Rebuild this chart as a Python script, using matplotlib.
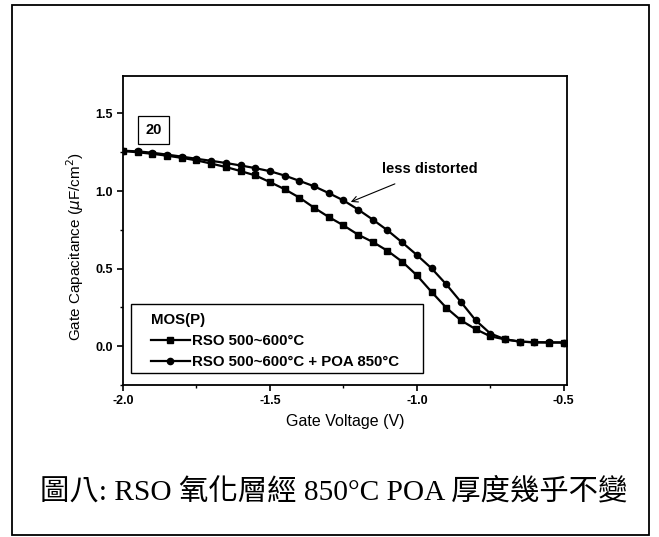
import matplotlib
matplotlib.use("Agg")
import matplotlib.pyplot as plt
from matplotlib.patches import Rectangle
from matplotlib.ticker import MultipleLocator

# Gate voltage sweep (V)
voltage = [-2.00, -1.95, -1.90, -1.85, -1.80, -1.75, -1.70, -1.65, -1.60, -1.55,
           -1.50, -1.45, -1.40, -1.35, -1.30, -1.25, -1.20, -1.15, -1.10, -1.05,
           -1.00, -0.95, -0.90, -0.85, -0.80, -0.75, -0.70, -0.65, -0.60, -0.55,
           -0.50]

# RSO 500~600C (squares)
cap_rso = [1.258, 1.250, 1.240, 1.228, 1.214, 1.198, 1.177, 1.155, 1.129, 1.101,
           1.058, 1.012, 0.958, 0.893, 0.833, 0.779, 0.719, 0.672, 0.615, 0.545,
           0.457, 0.350, 0.248, 0.167, 0.110, 0.064, 0.044, 0.030, 0.025, 0.024,
           0.024]

# RSO 500~600C + POA 850C (circles)
cap_poa = [1.260, 1.256, 1.247, 1.235, 1.222, 1.208, 1.195, 1.181, 1.165, 1.148,
           1.128, 1.100, 1.066, 1.031, 0.987, 0.940, 0.881, 0.816, 0.747, 0.669,
           0.588, 0.502, 0.399, 0.285, 0.167, 0.082, 0.045, 0.030, 0.026, 0.025,
           0.024]

plt.rcParams['font.family'] = ['Liberation Sans', 'DejaVu Sans']
plt.rcParams['axes.unicode_minus'] = False

fig = plt.figure(figsize=(6.59, 5.37), dpi=100)
ax = fig.add_axes([0.1867, 0.283, 0.6733, 0.575])

ax.plot(voltage, cap_rso, color='black', lw=1.6, marker='s', ms=4.5,
        label='RSO 500~600°C')
ax.plot(voltage, cap_poa, color='black', lw=1.6, marker='o', ms=4.5,
        label='RSO 500~600°C + POA 850°C')

ax.set_xlim(-2.0, -0.49)
ax.set_ylim(-0.25, 1.74)
ax.xaxis.set_major_locator(MultipleLocator(0.5))
ax.xaxis.set_minor_locator(MultipleLocator(0.25))
ax.yaxis.set_major_locator(MultipleLocator(0.5))
ax.yaxis.set_minor_locator(MultipleLocator(0.25))
ax.tick_params(which='major', direction='out', length=4, width=1.2, labelsize=9)
ax.tick_params(which='minor', direction='out', length=2.5, width=1)
for lab in ax.get_xticklabels() + ax.get_yticklabels():
    lab.set_fontweight('bold')
for s in ax.spines.values():
    s.set_linewidth(1.3)

ax.set_xlabel('Gate Voltage (V)', fontsize=11.5, labelpad=5)
ax.set_ylabel('Gate Capacitance ($\\mu$F/cm$^2$)', fontsize=11)
ax.yaxis.set_label_coords(-0.084, 0.447)

# sample label box
ax.text(-1.895, 1.394, '20', fontsize=10.5, fontweight='bold', va='center', ha='center',
        bbox=dict(boxstyle='square,pad=0.5', fc='white', ec='black', lw=0.9))

ax.annotate('less distorted', xy=(-1.225, 0.93), xytext=(-1.117, 1.14),
            fontsize=10.5, fontweight='bold', ha='left', va='center',
            arrowprops=dict(arrowstyle='->', color='black', lw=0.8,
                            shrinkA=9, shrinkB=0))

# legend box drawn separately, legend content placed inside it
ax.add_patch(Rectangle((0.018, 0.039), 0.658, 0.223, transform=ax.transAxes,
                       fill=False, ec='black', lw=1.0, zorder=4))
leg = ax.legend(loc='upper left', bbox_to_anchor=(0.062, 0.234), borderaxespad=0,
                title='MOS(P)', fontsize=10.8, title_fontsize=10.8, frameon=False,
                handlelength=2.65, handletextpad=0.1, borderpad=0,
                labelspacing=0.48, alignment='left')
leg.get_title().set_fontweight('bold')
for t in leg.get_texts():
    t.set_fontweight('bold')

fig.text(0.507, 0.084, '圖八: RSO 氧化層經 850°C POA 厚度幾乎不變',
         family=['Liberation Serif', 'Noto Sans CJK TC'], fontsize=21.2,
         ha='center', va='center')

# outer frame
fig.patches.append(Rectangle((0.0182, 0.0037), 0.9668, 0.987, transform=fig.transFigure,
                             fill=False, ec='black', lw=1.3))

fig.savefig('out.png', dpi=100)
